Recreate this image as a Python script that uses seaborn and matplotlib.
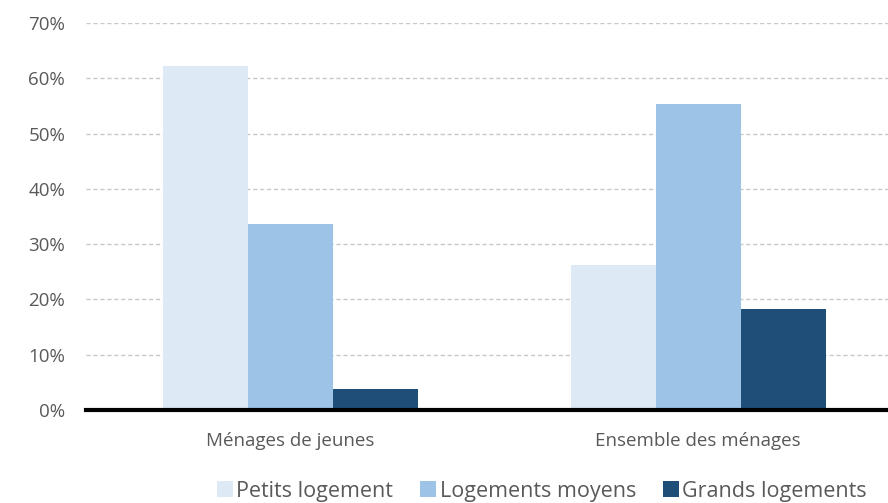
import matplotlib
matplotlib.use("Agg")
import matplotlib.pyplot as plt
import seaborn as sns
import pandas as pd
from matplotlib.patches import Patch

categories = ["Ménages de jeunes", "Ensemble des ménages"]
series = ["Petits logement", "Logements moyens", "Grands logements"]
petits = [62.2, 26.2]
moyens = [33.6, 55.3]
grands = [3.8, 18.3]
colors = ["#DDE9F5", "#9DC3E6", "#1F4E79"]
yticks = [0, 10, 20, 30, 40, 50, 60, 70]

rows = []
for s, vals in zip(series, [petits, moyens, grands]):
    for c, v in zip(categories, vals):
        rows.append({"cat": c, "serie": s, "val": v})
df = pd.DataFrame(rows)

sns.set_style("white")
plt.rcParams["font.family"] = ["Open Sans", "DejaVu Sans"]

fig = plt.figure(figsize=(8.88, 5.03), dpi=100)
ax = fig.add_axes([86/888, 1-410/503, 816/888, (410-23)/503])

sns.barplot(data=df, x="cat", y="val", hue="serie", palette=colors,
            width=0.625, gap=0, ax=ax, legend=False, saturation=1,
            edgecolor="none", zorder=3)

ax.set_ylim(0, 70)
ax.set_xlim(-0.5, 1.5)
ax.set_yticks(yticks)
ax.set_yticklabels([f"{t}%" for t in yticks], color="#595959", fontsize=13.5)
ax.tick_params(axis="y", length=0, pad=15)
ax.tick_params(axis="x", length=0, pad=16, labelsize=13.5, labelcolor="#595959")
ax.set_xlabel("")
ax.set_ylabel("")
ax.grid(axis="y", color="#C8C8C8", linestyle=(0, (3, 2)), linewidth=1, zorder=0)
for sp in ["top", "right", "left"]:
    ax.spines[sp].set_visible(False)
ax.spines["bottom"].set_color("black")
ax.spines["bottom"].set_linewidth(3)
ax.spines["bottom"].set_zorder(5)

handles = [Patch(facecolor=c, edgecolor="none", label=s) for c, s in zip(colors, series)]
fig.legend(handles=handles, loc="center", bbox_to_anchor=(542/888, 1-491/503), ncol=3,
           frameon=False, fontsize=15.5, handlelength=0.75, handleheight=0.75,
           handletextpad=0.15, columnspacing=1.25, labelcolor="#595959")

fig.savefig("out.png", dpi=100)
